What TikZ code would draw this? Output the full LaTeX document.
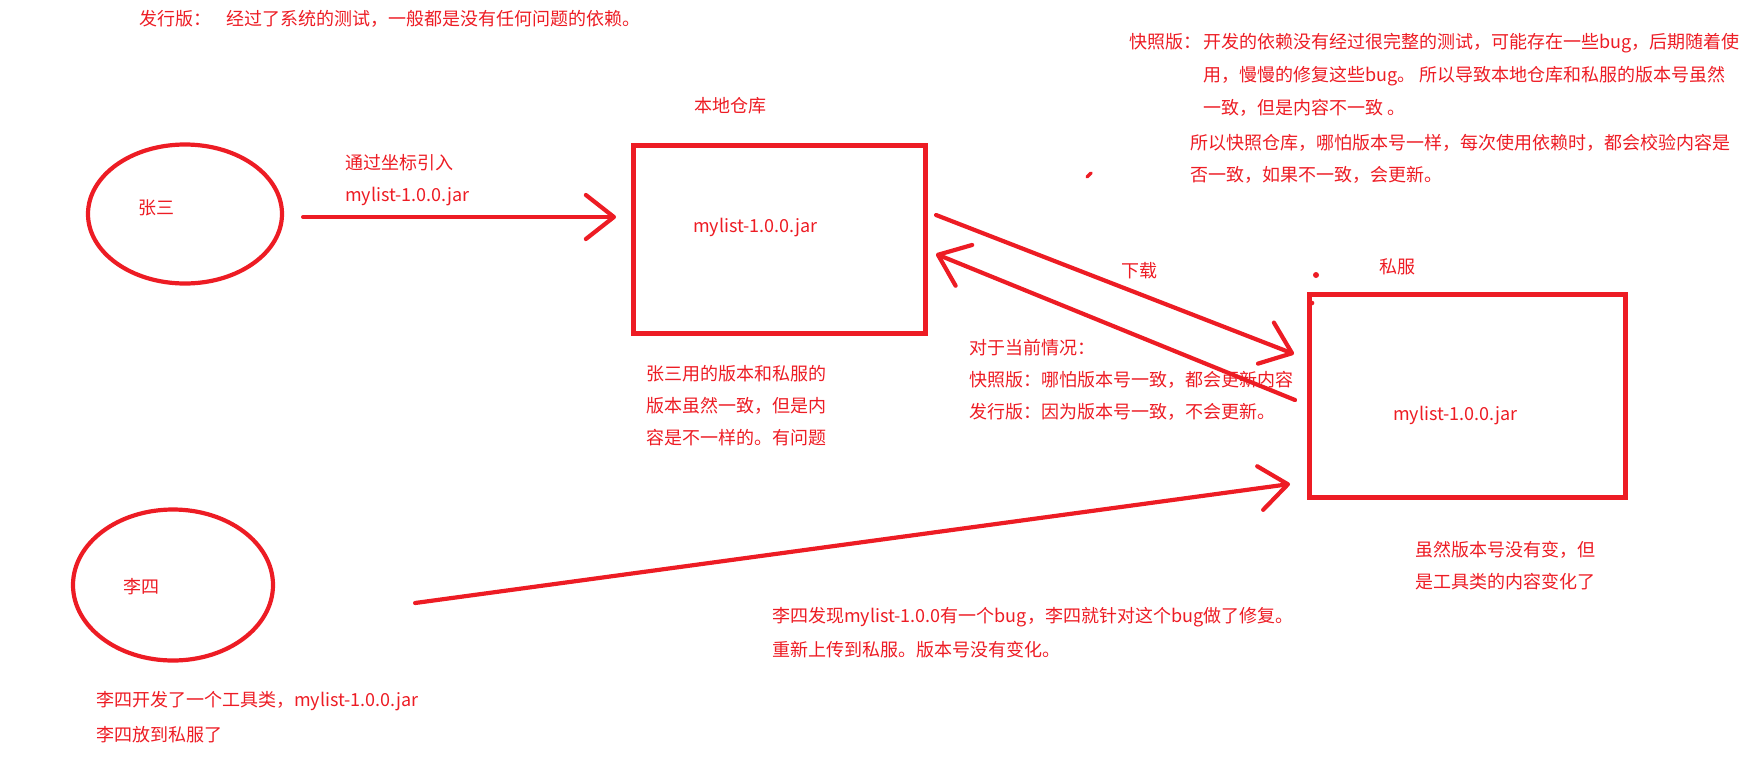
\documentclass[tikz,border=0pt]{standalone}
\usepackage{fontspec}
\setmainfont{Noto Sans CJK SC}
\usepackage{tikz}
\usetikzlibrary{calc}
\usetikzlibrary{arrows.meta}
\usetikzlibrary{shapes.geometric}
\definecolor{paintred}{RGB}{237,28,36}
\tikzstyle{every node}=[font=\fontsize{18}{32}\selectfont, text=paintred, inner sep=0pt]
\tikzstyle{note}=[align=left, anchor=west]
\tikzstyle{repo}=[draw=paintred, line width=5pt]
\tikzstyle{person}=[draw=paintred, line width=4.2pt, ellipse]
\tikzstyle{arr}=[draw=paintred, line width=4.2pt, line cap=round, -{Straight Barb[round, length=28pt, width=44pt]}]

\begin{document}
\begin{tikzpicture}[x=1pt, y=-1pt]
                \useasboundingbox (0,0) rectangle (1747,764);
                % people and repositories
                \node[person, minimum width=194, minimum height=139] (zhangsan) at (185,214) {};
                \node[person, minimum width=200, minimum height=151] (lisi) at (173,585) {};
                \node[repo, minimum width=292, minimum height=188] (local) at (779.5,239.5) {};
                \node[repo, minimum width=316, minimum height=203] (private) at (1467.5,396) {};
                \node[note] (zhangsanname) at (138,208) {张三};
                \node[note] (lisiname) at (123,587) {李四};
                \node[note] (localjar) at (693,228) {mylist-1.0.0.jar};
                \node[note] (privatejar) at (1393,416) {mylist-1.0.0.jar};
                \node[note] (localname) at (694,106) {本地仓库};
                \node[note] (privatename) at (1379,267) {私服};
                % arrows
                \draw[arr] ($(zhangsan.east)+(19,3)$) -- ($(local.west)+(-15,-22.5)$);
                \draw[arr] ($(local.east)+(8,-24.5)$) -- ($(private.west)+(-13,-42)$);
                \draw[arr] ($(private.west)+(-12,4)$) -- ($(local.east)+(8,14.5)$);
                \draw[arr] ($(lisi.east)+(140,18)$) -- ($(private.west)+(-17,88)$);
                \node[note] (download) at (1121,271) {下载};
                % stray marks
                \draw[paintred, line width=3.5pt, line cap=round] (1087,177) -- (1091,173);
                \fill[paintred] (1316,275) circle (3);
                \fill[paintred] (1312,303) circle (2.3);
                % notes
                \node[note] (releaselabel) at (139,19) {发行版：};
                \node[note] (releasetext) at (226,19) {经过了系统的测试，一般都是没有任何问题的依赖。};
                \node[note] (snaplabel) at (1129,42) {快照版：};
                \node[note] (snaptext) at (1203,75) {开发的依赖没有经过很完整的测试，可能存在一些bug，后期随着使\\[1pt]用，慢慢的修复这些bug。 所以导致本地仓库和私服的版本号虽然\\[1pt]一致，但是内容不一致 。};
                \node[note] (snapcheck) at (1190,159) {所以快照仓库，哪怕版本号一样，每次使用依赖时，都会校验内容是\\否一致，如果不一致，会更新。};
                \node[note] (coord) at (345,180) {通过坐标引入\\mylist-1.0.0.jar};
                \node[note] (situation) at (969,380) {对于当前情况：\\快照版：哪怕版本号一致，都会更新内容\\发行版：因为版本号一致，不会更新。};
                \node[note] (zhangsannote) at (646,405.5) {张三用的版本和私服的\\版本虽然一致，但是内\\容是不一样的。有问题};
                \node[note] (lisifix) at (772,633) {李四发现mylist-1.0.0有一个bug，李四就针对这个bug做了修复。\\[2pt]重新上传到私服。版本号没有变化。};
                \node[note] (changed) at (1415,566) {虽然版本号没有变，但\\是工具类的内容变化了};
                \node[note] (lisinote) at (96,717.5) {李四开发了一个工具类，mylist-1.0.0.jar\\[3pt]李四放到私服了};
            \end{tikzpicture}
\end{document}
